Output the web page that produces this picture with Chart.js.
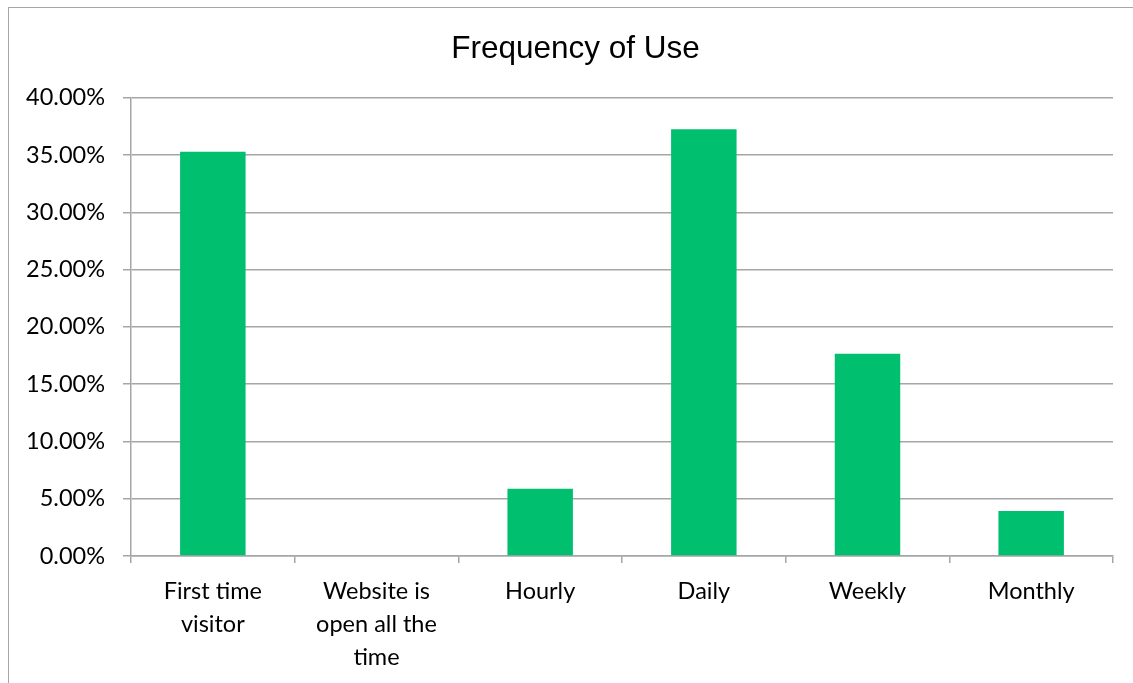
<!DOCTYPE html>
<html lang="en">
<head>
  <meta charset="UTF-8">
  <title>Frequency of Use</title>
  <script src="https://cdn.jsdelivr.net/npm/chart.js@4.4.2/dist/chart.umd.min.js"></script>
  <style>
    body{
      margin: 0;
      width: 1133px;
      height: 683px;
      overflow: hidden;
      background: white;
      position: relative;
    }
    .frame{
      position: absolute;
      left: 8px;
      top: 7px;
      width: 1200px;
      height: 800px;
      border: 1.5px solid #a6a6a6;
    }
    .ch{
      position: absolute;
      left: 0;
      top: 0;
      width: 1133px;
      height: 683px;
    }
  </style>
</head>
<body>
  <div class="frame"></div>
  <div class="ch">
    <canvas id="myChart"></canvas>
  </div>
  <script>
    const categories = [['First time', 'visitor'], ['Website is', 'open all the', 'time'], 'Hourly', 'Daily', 'Weekly', 'Monthly'];
    const shares = [0.3529, 0, 0.0588, 0.3725, 0.1765, 0.0392];
    const yTicks = [0, 0.05, 0.10, 0.15, 0.20, 0.25, 0.30, 0.35, 0.40];

    const gridGray = '#a6a6a6';
    const labelFont = { family: 'Lato, "Open Sans", sans-serif', size: 23.5, lineHeight: 1.4 };

    // the title is centred on the outer frame, not on the canvas box
    const shiftTitle = {
      id: 'shiftTitle',
      afterLayout(chart) {
        if (chart.titleBlock) {
          chart.titleBlock.left += 19;
          chart.titleBlock.right += 19;
        }
      }
    };

    const ctx = document.getElementById('myChart').getContext('2d');
    const myChart = new Chart(ctx, {
      type: 'bar',
      data: {
        labels: categories,
        datasets: [{
          label: 'Frequency of Use',
          data: shares,
          backgroundColor: '#00bf6f',
          borderWidth: 0,
          categoryPercentage: 1,
          barPercentage: 0.4
        }]
      },
      options: {
        responsive: true,
        maintainAspectRatio: false,
        animation: false,
        layout: { padding: { left: 0, right: 20, top: 0, bottom: 0 } },
        plugins: {
          legend: { display: false },
          tooltip: { enabled: false },
          title: {
            display: true,
            text: 'Frequency of Use',
            color: '#000',
            font: { family: '"Liberation Sans", Arial, sans-serif', size: 31.5, weight: 'normal', lineHeight: 1.2 },
            padding: { top: 30, bottom: 30 }
          }
        },
        scales: {
          x: {
            grid: {
              offset: true,
              drawOnChartArea: false,
              drawTicks: true,
              tickLength: 7,
              color: gridGray,
              lineWidth: 1.5
            },
            border: { color: gridGray, width: 1.5 },
            ticks: {
              color: '#000',
              font: labelFont,
              padding: 12,
              maxRotation: 0,
              autoSkip: false
            },
            afterFit: function(scale) { scale.height = 127; }
          },
          y: {
            min: 0,
            max: 0.4,
            afterBuildTicks: function(scale) {
              scale.ticks = yTicks.map(v => ({ value: v }));
            },
            grid: {
              color: gridGray,
              lineWidth: 1.5,
              tickLength: 8
            },
            border: { color: gridGray, width: 1.5 },
            ticks: {
              color: '#000',
              font: labelFont,
              padding: 18,
              callback: function(value) { return (value * 100).toFixed(2) + '%'; }
            },
            afterFit: function(scale) { scale.width = 131; }
          }
        }
      },
      plugins: [shiftTitle]
    });
  </script>
</body>
</html>
